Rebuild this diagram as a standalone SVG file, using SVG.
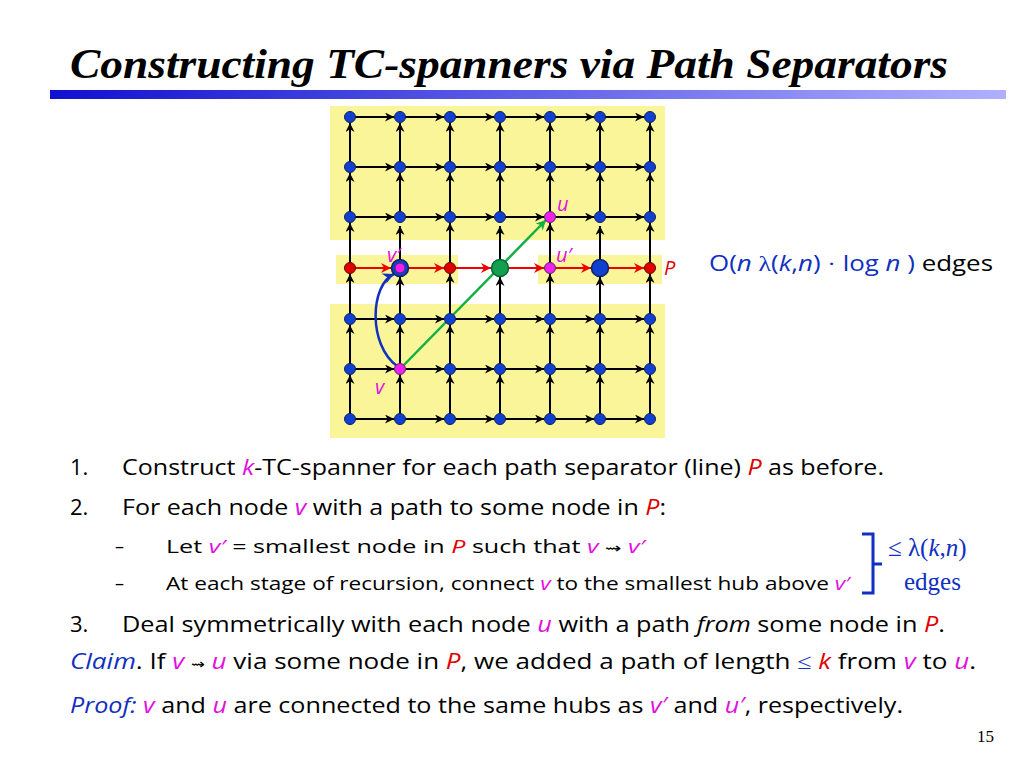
<svg xmlns="http://www.w3.org/2000/svg" width="1024" height="768" viewBox="0 0 1024 768">
<defs>
<linearGradient id="bar" x1="0" x2="1"><stop offset="0" stop-color="#1010d0"/><stop offset="1" stop-color="#b0b0ff"/></linearGradient>
<marker id="ak" viewBox="0 0 10 10" refX="10" refY="5" markerWidth="9" markerHeight="9" markerUnits="userSpaceOnUse" orient="auto"><path d="M0,0 L10,5 L0,10 L3,5 Z" fill="#000"/></marker>
<marker id="ar" viewBox="0 0 10 10" refX="10" refY="5" markerWidth="10" markerHeight="10" markerUnits="userSpaceOnUse" orient="auto"><path d="M0,0 L10,5 L0,10 L3,5 Z" fill="#e00"/></marker>
<marker id="ag" viewBox="0 0 10 10" refX="10" refY="5" markerWidth="10" markerHeight="10" markerUnits="userSpaceOnUse" orient="auto"><path d="M0,0 L10,5 L0,10 L3,5 Z" fill="#10b040"/></marker>
<marker id="ab" viewBox="0 0 10 10" refX="10" refY="5" markerWidth="11" markerHeight="11" markerUnits="userSpaceOnUse" orient="auto"><path d="M0,0 L10,5 L0,10 L3,5 Z" fill="#1030c0"/></marker>
</defs>
<style>
.e line{stroke:#000;stroke-width:2;marker-end:url(#ak)}
.r line{stroke:#e00;stroke-width:2;marker-end:url(#ar)}
.n{fill:#1040d0;stroke:#102060;stroke-width:1}
.t{font-family:"Open Sans","Liberation Sans",sans-serif;font-size:22px;fill:#000}
.s{font-family:"Open Sans","Liberation Sans",sans-serif;font-size:18px;fill:#000}
.m{fill:#e010e0;font-style:italic}
.rd{fill:#e00000;font-style:italic}
.bl{fill:#1030c0}
.ser{font-family:"Liberation Serif",serif}
.sq{font-family:"DejaVu Sans",sans-serif;font-size:14px}
</style>
<text x="70" y="78" font-family="Liberation Serif,serif" font-size="42" font-weight="bold" font-style="italic" textLength="878" lengthAdjust="spacingAndGlyphs">Constructing TC-spanners via Path Separators</text>
<rect x="50" y="90" width="956" height="9" fill="url(#bar)"/>
<g id="bg" fill="#fbf59a">
<rect x="330" y="106" width="335" height="134"/>
<rect x="336" y="255" width="122" height="29"/>
<rect x="538" y="255" width="124" height="29"/>
<rect x="330" y="304" width="335" height="134"/>
</g>
<g id="connectors">
<g class="e">
<line x1="350" y1="117" x2="394" y2="117"/><line x1="400" y1="117" x2="444" y2="117"/><line x1="450" y1="117" x2="494" y2="117"/><line x1="500" y1="117" x2="544" y2="117"/><line x1="550" y1="117" x2="594" y2="117"/><line x1="600" y1="117" x2="644" y2="117"/>
<line x1="350" y1="167" x2="394" y2="167"/><line x1="400" y1="167" x2="444" y2="167"/><line x1="450" y1="167" x2="494" y2="167"/><line x1="500" y1="167" x2="544" y2="167"/><line x1="550" y1="167" x2="594" y2="167"/><line x1="600" y1="167" x2="644" y2="167"/>
<line x1="350" y1="217" x2="394" y2="217"/><line x1="400" y1="217" x2="444" y2="217"/><line x1="450" y1="217" x2="494" y2="217"/><line x1="500" y1="217" x2="544" y2="217"/><line x1="556" y1="217" x2="594" y2="217"/><line x1="600" y1="217" x2="644" y2="217"/>
<line x1="350" y1="319" x2="394" y2="319"/><line x1="400" y1="319" x2="444" y2="319"/><line x1="450" y1="319" x2="494" y2="319"/><line x1="500" y1="319" x2="544" y2="319"/><line x1="550" y1="319" x2="594" y2="319"/><line x1="600" y1="319" x2="644" y2="319"/>
<line x1="350" y1="369" x2="394" y2="369"/><line x1="406" y1="369" x2="444" y2="369"/><line x1="450" y1="369" x2="494" y2="369"/><line x1="500" y1="369" x2="544" y2="369"/><line x1="550" y1="369" x2="594" y2="369"/><line x1="600" y1="369" x2="644" y2="369"/>
<line x1="350" y1="419" x2="394" y2="419"/><line x1="400" y1="419" x2="444" y2="419"/><line x1="450" y1="419" x2="494" y2="419"/><line x1="500" y1="419" x2="544" y2="419"/><line x1="550" y1="419" x2="594" y2="419"/><line x1="600" y1="419" x2="644" y2="419"/>
<line x1="350" y1="167" x2="350" y2="123"/><line x1="350" y1="217" x2="350" y2="173"/><line x1="350" y1="268" x2="350" y2="223"/><line x1="350" y1="319" x2="350" y2="274"/><line x1="350" y1="369" x2="350" y2="325"/><line x1="350" y1="419" x2="350" y2="375"/>
<line x1="400" y1="167" x2="400" y2="123"/><line x1="400" y1="217" x2="400" y2="173"/><line x1="400" y1="268" x2="400" y2="226"/><line x1="400" y1="319" x2="400" y2="277"/><line x1="400" y1="363" x2="400" y2="325"/><line x1="400" y1="419" x2="400" y2="375"/>
<line x1="450" y1="167" x2="450" y2="123"/><line x1="450" y1="217" x2="450" y2="173"/><line x1="450" y1="268" x2="450" y2="223"/><line x1="450" y1="319" x2="450" y2="274"/><line x1="450" y1="369" x2="450" y2="325"/><line x1="450" y1="419" x2="450" y2="375"/>
<line x1="500" y1="167" x2="500" y2="123"/><line x1="500" y1="217" x2="500" y2="173"/><line x1="500" y1="268" x2="500" y2="226"/><line x1="500" y1="319" x2="500" y2="277"/><line x1="500" y1="369" x2="500" y2="325"/><line x1="500" y1="419" x2="500" y2="375"/>
<line x1="550" y1="167" x2="550" y2="123"/><line x1="550" y1="211" x2="550" y2="173"/><line x1="550" y1="268" x2="550" y2="223"/><line x1="550" y1="319" x2="550" y2="274"/><line x1="550" y1="369" x2="550" y2="325"/><line x1="550" y1="419" x2="550" y2="375"/>
<line x1="600" y1="167" x2="600" y2="123"/><line x1="600" y1="217" x2="600" y2="173"/><line x1="600" y1="268" x2="600" y2="226"/><line x1="600" y1="319" x2="600" y2="277"/><line x1="600" y1="369" x2="600" y2="325"/><line x1="600" y1="419" x2="600" y2="375"/>
<line x1="650" y1="167" x2="650" y2="123"/><line x1="650" y1="217" x2="650" y2="173"/><line x1="650" y1="268" x2="650" y2="223"/><line x1="650" y1="319" x2="650" y2="274"/><line x1="650" y1="369" x2="650" y2="325"/><line x1="650" y1="419" x2="650" y2="375"/>
</g>
<g class="r">
<line x1="350" y1="268" x2="391" y2="268"/><line x1="409" y1="268" x2="444" y2="268"/><line x1="450" y1="268" x2="491" y2="268"/><line x1="509" y1="268" x2="544" y2="268"/><line x1="556" y1="268" x2="591" y2="268"/><line x1="609" y1="268" x2="644" y2="268"/>
</g>
<path d="M400 369L546 220" stroke="#10b040" stroke-width="2.5" fill="none" marker-end="url(#ag)"/>
<path d="M397 366C368 345 370 285 394 274" stroke="#1030c0" stroke-width="2.5" fill="none" marker-end="url(#ab)"/>
</g>
<g id="nodes">
<g class="n">
<circle cx="350" cy="117" r="5.5"/><circle cx="400" cy="117" r="5.5"/><circle cx="450" cy="117" r="5.5"/><circle cx="500" cy="117" r="5.5"/><circle cx="550" cy="117" r="5.5"/><circle cx="600" cy="117" r="5.5"/><circle cx="650" cy="117" r="5.5"/>
<circle cx="350" cy="167" r="5.5"/><circle cx="400" cy="167" r="5.5"/><circle cx="450" cy="167" r="5.5"/><circle cx="500" cy="167" r="5.5"/><circle cx="550" cy="167" r="5.5"/><circle cx="600" cy="167" r="5.5"/><circle cx="650" cy="167" r="5.5"/>
<circle cx="350" cy="217" r="5.5"/><circle cx="400" cy="217" r="5.5"/><circle cx="450" cy="217" r="5.5"/><circle cx="500" cy="217" r="5.5"/><circle cx="600" cy="217" r="5.5"/><circle cx="650" cy="217" r="5.5"/>
<circle cx="350" cy="319" r="5.5"/><circle cx="400" cy="319" r="5.5"/><circle cx="450" cy="319" r="5.5"/><circle cx="500" cy="319" r="5.5"/><circle cx="550" cy="319" r="5.5"/><circle cx="600" cy="319" r="5.5"/><circle cx="650" cy="319" r="5.5"/>
<circle cx="350" cy="369" r="5.5"/><circle cx="450" cy="369" r="5.5"/><circle cx="500" cy="369" r="5.5"/><circle cx="550" cy="369" r="5.5"/><circle cx="600" cy="369" r="5.5"/><circle cx="650" cy="369" r="5.5"/>
<circle cx="350" cy="419" r="5.5"/><circle cx="400" cy="419" r="5.5"/><circle cx="450" cy="419" r="5.5"/><circle cx="500" cy="419" r="5.5"/><circle cx="550" cy="419" r="5.5"/><circle cx="600" cy="419" r="5.5"/><circle cx="650" cy="419" r="5.5"/>
<circle cx="600" cy="268" r="8.5" stroke-width="1.5"/>
<circle cx="400" cy="268" r="8.5" stroke-width="1.5"/>
</g>
<g fill="#e00000" stroke="#600" stroke-width="1"><circle cx="350" cy="268" r="5.5"/><circle cx="450" cy="268" r="5.5"/><circle cx="650" cy="268" r="5.5"/></g>
<circle cx="500" cy="268" r="8.5" fill="#10a050" stroke="#063" stroke-width="1.5"/>
<g fill="#f020f0" stroke="#602060" stroke-width="1"><circle cx="400" cy="268" r="5"/><circle cx="550" cy="268" r="5.5"/><circle cx="550" cy="217" r="5.5"/><circle cx="400" cy="369" r="5.5"/></g>
</g>
<g id="labels" font-family="Open Sans,Liberation Sans,sans-serif" font-size="20" font-style="italic">
<text x="557" y="211" fill="#e010e0">u</text>
<text x="556" y="262" fill="#e010e0">u′</text>
<text x="387" y="262" fill="#e010e0">v′</text>
<text x="375" y="394" fill="#e010e0">v</text>
<text x="664" y="275" fill="#e00000">P</text>
</g>
<text x="709" y="271" class="t" style="fill:#1030c0" textLength="284" lengthAdjust="spacingAndGlyphs">O(<tspan font-style="italic">n</tspan> <tspan class="ser">λ</tspan>(<tspan font-style="italic">k</tspan>,<tspan font-style="italic">n</tspan>) <tspan class="ser">·</tspan> log <tspan font-style="italic">n</tspan> ) <tspan fill="#000">edges</tspan></text>
<text x="70" y="475" class="t">1.</text>
<text x="122" y="475" class="t" textLength="762" lengthAdjust="spacingAndGlyphs">Construct <tspan class="m">k</tspan>-TC-spanner for each path separator (line) <tspan class="rd">P</tspan> as before.</text>
<text x="70" y="515" class="t">2.</text>
<text x="122" y="515" class="t" textLength="544" lengthAdjust="spacingAndGlyphs">For each node <tspan class="m">v</tspan> with a path to some node in <tspan class="rd">P</tspan>:</text>
<text x="115" y="553" class="s">–</text>
<text x="166" y="553" class="s" textLength="479" lengthAdjust="spacingAndGlyphs">Let  <tspan class="m">v′</tspan> = smallest node in <tspan class="rd">P</tspan> such that <tspan class="m">v</tspan> <tspan class="sq">⇝</tspan> <tspan class="m">v′</tspan></text>
<text x="115" y="590" class="s">–</text>
<text x="166" y="590" class="s" textLength="684" lengthAdjust="spacingAndGlyphs">At each stage of recursion, connect <tspan class="m">v</tspan> to the smallest hub above <tspan class="m">v′</tspan></text>
<path d="M862 534H873V593H862M873 564H882" stroke="#1030c0" stroke-width="3" fill="none"/>
<text x="888" y="556" font-family="Liberation Serif,serif" font-size="25" fill="#1030c0">≤ λ(<tspan font-style="italic">k</tspan>,<tspan font-style="italic">n</tspan>)</text>
<text x="904" y="590" font-family="Liberation Serif,serif" font-size="25" fill="#1030c0">edges</text>
<text x="70" y="632" class="t">3.</text>
<text x="122" y="632" class="t" textLength="823" lengthAdjust="spacingAndGlyphs">Deal symmetrically with each node <tspan class="m">u</tspan> with a path <tspan font-style="italic">from</tspan> some node in <tspan class="rd">P</tspan>.</text>
<text x="70" y="669" class="t" textLength="906" lengthAdjust="spacingAndGlyphs"><tspan class="bl" font-style="italic">Claim</tspan>. If <tspan class="m">v</tspan> <tspan class="sq">⇝</tspan> <tspan class="m">u</tspan> via some node in <tspan class="rd">P</tspan>, we added a path of length <tspan class="ser bl">≤</tspan> <tspan class="rd">k</tspan> from <tspan class="m">v</tspan> to <tspan class="m">u</tspan>.</text>
<text x="70" y="713" class="t" textLength="833" lengthAdjust="spacingAndGlyphs"><tspan class="bl" font-style="italic">Proof:</tspan> <tspan class="m">v</tspan> and <tspan class="m">u</tspan> are connected to the same hubs as <tspan class="m">v′</tspan> and <tspan class="m">u′</tspan>, respectively.</text>
<text x="977" y="742" font-family="Liberation Serif,serif" font-size="17">15</text>
</svg>
